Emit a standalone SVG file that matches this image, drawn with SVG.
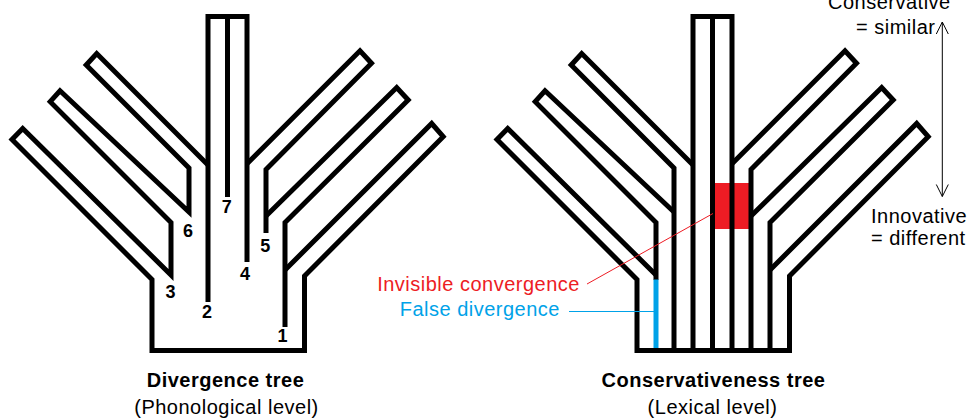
<svg xmlns="http://www.w3.org/2000/svg" width="967" height="419" viewBox="0 0 967 419">
<style>
.tr{fill:none;stroke:#000;stroke-width:5;stroke-linejoin:miter;stroke-miterlimit:6;stroke-linecap:butt}
.num{font-family:"Liberation Sans",Arial,sans-serif;font-size:18px;font-weight:bold;fill:#000;text-anchor:middle}
.txt{font-family:"Liberation Sans",Arial,sans-serif;font-size:20px;letter-spacing:0.5px;fill:#000}
.cap{font-family:"Liberation Sans",Arial,sans-serif;font-size:20px;letter-spacing:0.5px;fill:#000;text-anchor:middle}
.bold{font-weight:bold}
</style>
<defs>
<marker id="open" viewBox="-13 -7 14 14" markerWidth="14" markerHeight="14" refX="0" refY="0" orient="auto-start-reverse" markerUnits="userSpaceOnUse" overflow="visible">
<path d="M-12,-6 L0,0 L-12,6" fill="none" stroke="#000" stroke-width="1"/>
</marker>
</defs>
<rect width="967" height="419" fill="#fff"/>

<g id="divergence-tree">
<path class="tr" d="M208,165 L96.7,53.5 L86.2,65 L189,168 L189,212 L60,90.8 L50.2,101.7 L171,222.5 L171,275 L22.7,128.5 L12,139.5 L152,279.5 L152,350.5 L304.5,350.5 L304.5,276 L443.2,136.7 L431.7,123.5 L285,270"/>
<path class="tr" d="M285,327 L285,222.5 L408.2,100 L396.7,87.5 L266,216"/>
<path class="tr" d="M266,233 L266,169.5 L371.5,63.3 L360,50.8 L247,163.8"/>
<path class="tr" d="M208,302 L208,16.5 L247,16.5 L247,262"/>
<path class="tr" d="M227.5,16.5 L227.5,197"/>
</g>

<g id="labels-left">
<text class="num" x="226.7" y="213">7</text>
<text class="num" x="188" y="237">6</text>
<text class="num" x="170.5" y="298">3</text>
<text class="num" x="207" y="318">2</text>
<text class="num" x="245" y="280">4</text>
<text class="num" x="265.3" y="252">5</text>
<text class="num" x="282.5" y="342">1</text>
</g>

<g id="conservativeness-tree">
<rect x="712.5" y="183" width="38.5" height="46" fill="#ed1c24"/>
<path class="tr" d="M656,275 L507.7,128.5 L497,139.5 L637,279.5 L637,350.5 L789.5,350.5 L789.5,276 L928.2,136.7 L916.7,123.5 L770,270"/>
<path class="tr" d="M656,280 L656,222.5 L535.2,101.7 L545,90.8 L674,212"/>
<path class="tr" d="M674,350.5 L674,168 L571.2,65 L581.7,53.5 L693,165"/>
<path class="tr" d="M693,350.5 L693,16.5 L732,16.5 L732,350.5"/>
<path class="tr" d="M712.5,16.5 L712.5,350.5"/>
<path class="tr" d="M732,163.8 L845,50.8 L856.5,63.3 L751,169.5 L751,350.5"/>
<path class="tr" d="M751,216 L881.7,87.5 L893.2,100 L770,222.5 L770,350.5"/>
<line x1="656" y1="279.5" x2="656" y2="348" stroke="#00a2e8" stroke-width="5"/>
</g>

<g id="connectors">
<line x1="713" y1="213.5" x2="587" y2="284" stroke="#ed1c24" stroke-width="1"/>
<line x1="569" y1="311.5" x2="655" y2="311.5" stroke="#00a2e8" stroke-width="1"/>
<line x1="942.3" y1="22" x2="942.3" y2="196.5" stroke="#000" stroke-width="1" marker-start="url(#open)" marker-end="url(#open)"/>
</g>

<g id="annotations">
<text class="txt" x="580" y="290.5" text-anchor="end" fill="#ed1c24" style="fill:#ed1c24">Invisible convergence</text>
<text class="txt" x="560" y="315.5" text-anchor="end" style="fill:#00a2e8">False divergence</text>
<text class="txt" x="828" y="9">Conservative</text>
<text class="txt" x="856" y="34">= similar</text>
<text class="txt" x="871" y="222.5">Innovative</text>
<text class="txt" x="871" y="245">= different</text>
</g>

<g id="captions">
<text class="cap bold" x="225.5" y="387">Divergence tree</text>
<text class="cap" x="226.5" y="414">(Phonological level)</text>
<text class="cap bold" x="713.5" y="387">Conservativeness tree</text>
<text class="cap" x="712.5" y="414">(Lexical level)</text>
</g>
</svg>
